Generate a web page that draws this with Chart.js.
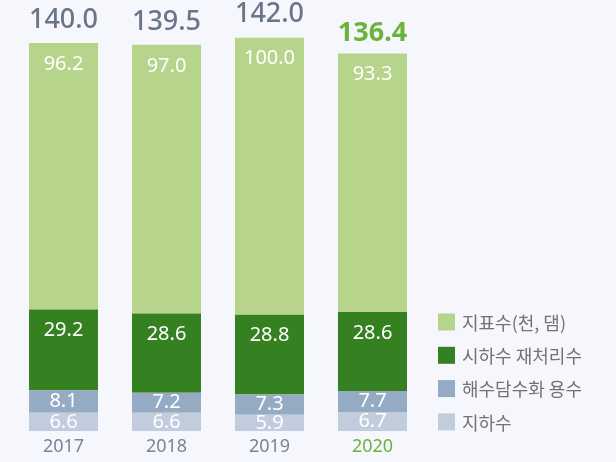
<!DOCTYPE html>
<html>
<head>
<meta charset="utf-8">
<script src="https://cdn.jsdelivr.net/npm/chart.js@4/dist/chart.umd.min.js"></script>
<style>
    html, body { margin: 0; padding: 0; background: #f5f7fc; }
    #wrap { position: relative; width: 616px; height: 462px; }
</style>
</head>
<body>
<div id="wrap"><canvas id="chart" width="616" height="462"></canvas></div>
<script>
const years = ["2017", "2018", "2019", "2020"];
const groundwater = [6.6, 6.6, 5.9, 6.7];
const desalination = [8.1, 7.2, 7.3, 7.7];
const sewageReuse = [29.2, 28.6, 28.8, 28.6];
const surfaceWater = [96.2, 97.0, 100.0, 93.3];
const totals = [140.0, 139.5, 142.0, 136.4];

const seriesNames = ["지하수", "해수담수화 용수", "시하수 재처리수", "지표수(천, 댐)"];
const seriesColors = ["#c1ccdc", "#95abc4", "#358020", "#b6d48c"];
const legendOrder = [3, 2, 1, 0];

const GRAY = "#6b7589";
const HIGHLIGHT = "#6bb43c";
const NUM_FONT = "'Noto Sans', 'Open Sans', sans-serif";

const labelsPlugin = {
    id: "labels",
    afterDatasetsDraw(chart) {
        const { ctx } = chart;
        const xScale = chart.scales.x;
        ctx.save();
        ctx.textAlign = "center";
        ctx.textBaseline = "middle";
        // segment values
        chart.data.datasets.forEach((ds, i) => {
            chart.getDatasetMeta(i).data.forEach((bar, j) => {
                const h = bar.base - bar.y;
                ctx.fillStyle = "#ffffff";
                ctx.font = `20px ${NUM_FONT}`;
                const y = h > 40 ? bar.y + 21 : bar.y + h / 2;
                ctx.fillText(ds.data[j].toFixed(1), bar.x, y);
            });
        });
        // totals
        const topMeta = chart.getDatasetMeta(chart.data.datasets.length - 1);
        topMeta.data.forEach((bar, j) => {
            const last = j === totals.length - 1;
            ctx.fillStyle = last ? HIGHLIGHT : GRAY;
            ctx.font = `${last ? "bold " : "500 "}27px ${NUM_FONT}`;
            ctx.fillText(totals[j].toFixed(1), bar.x, bar.y - (last ? 20 : 23));
        });
        // years
        years.forEach((yr, j) => {
            ctx.fillStyle = j === years.length - 1 ? HIGHLIGHT : "#7a8498";
            ctx.font = `18px ${NUM_FONT}`;
            ctx.fillText(yr, xScale.getPixelForValue(j), 447);
        });
        // legend
        ctx.textAlign = "left";
        legendOrder.forEach((idx, k) => {
            const y = 322 + k * 33.3;
            ctx.fillStyle = seriesColors[idx];
            ctx.fillRect(438, y - 8.5, 17, 17);
            ctx.fillStyle = "#737373";
            ctx.font = "18px 'Noto Sans CJK KR', 'Noto Sans', sans-serif";
            ctx.fillText(seriesNames[idx], 462, y + 1);
        });
        ctx.restore();
    }
};

const seriesData = [groundwater, desalination, sewageReuse, surfaceWater];

new Chart(document.getElementById("chart"), {
    type: "bar",
    data: {
        labels: years,
        datasets: seriesData.map((data, i) => ({
            label: seriesNames[i],
            data,
            backgroundColor: seriesColors[i],
            borderWidth: 0,
            barPercentage: 0.67,
            categoryPercentage: 1
        }))
    },
    options: {
        responsive: false,
        animation: false,
        layout: { padding: { left: 12, right: 192, top: 15.5, bottom: 31 } },
        plugins: { legend: { display: false }, tooltip: { enabled: false } },
        scales: {
            x: { stacked: true, display: false },
            y: { stacked: true, display: false, min: 0, max: 150 }
        }
    },
    plugins: [labelsPlugin]
});
</script>
</body>
</html>
